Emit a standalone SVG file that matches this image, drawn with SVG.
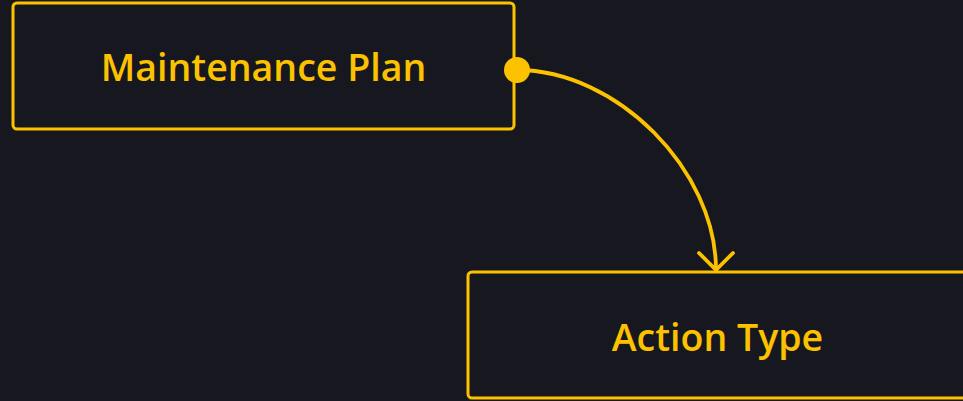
<svg xmlns="http://www.w3.org/2000/svg" width="963" height="401" viewBox="0 0 963 401">
  <style>
    .node rect { fill: #17181f; stroke: #fcc200; stroke-width: 3; }
    .node text { fill: #fcc200; font-family: "Open Sans", "Noto Sans", sans-serif; font-weight: 600; font-size: 37.5px; text-anchor: middle; }
    .edge { fill: none; stroke: #fcc200; stroke-width: 3.8; stroke-linecap: round; stroke-linejoin: round; }
  </style>
  <defs>
    <!-- open V arrowhead; tip sits on the path end -->
    <marker id="openArrow" viewBox="-20 -20 24 40" refX="0" refY="0" markerWidth="24" markerHeight="40" markerUnits="userSpaceOnUse" orient="auto">
      <polyline points="-17,-17 0,0 -17,17" fill="none" stroke="#fcc200" stroke-width="3.8" stroke-linecap="round" stroke-linejoin="round"/>
    </marker>
  </defs>
  <rect width="963" height="401" fill="#17181f"/>

  <g id="maintenance-plan" class="node">
    <rect x="13" y="3" width="501" height="126" rx="4"/>
    <text x="263.5" y="80.5">Maintenance Plan</text>
  </g>

  <g id="action-type" class="node">
    <rect x="468" y="272" width="500" height="126" rx="4"/>
    <text x="717.5" y="350.5">Action Type</text>
  </g>

  <g id="connectors">
    <path class="edge" d="M517,70 C617,70 716,170 716,270" marker-end="url(#openArrow)"/>
    <circle cx="517" cy="70" r="13" fill="#fcc200"/>
  </g>
</svg>
